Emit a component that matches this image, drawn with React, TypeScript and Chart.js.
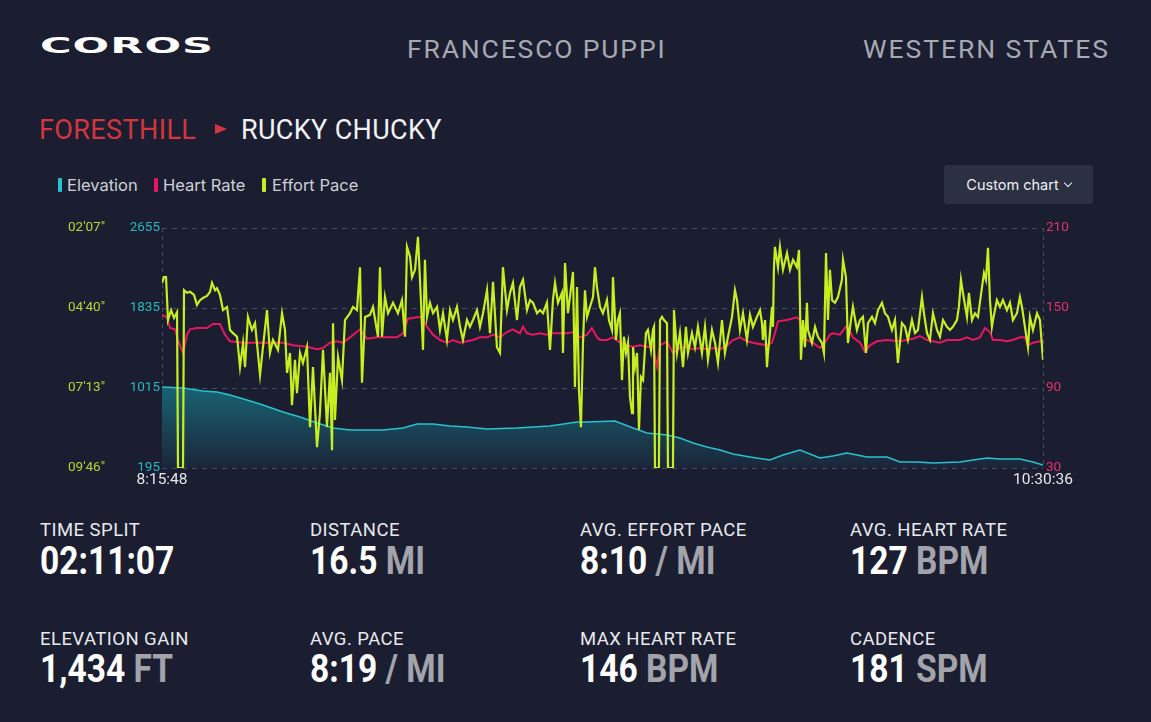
import React, { useEffect, useRef } from "react";
import { Chart, registerables } from "chart.js";

Chart.register(...registerables);

// ---------- data (elapsed seconds from 8:15:48) ----------
const START_CLOCK_S = 8 * 3600 + 15 * 60 + 48; // 8:15:48
const END_ELAPSED_S = 8088; // 10:30:36
const TIME_TICKS = [0, END_ELAPSED_S];

const ELEV_T = [0,193,376,505,624,780,927,1111,1267,1423,1570,1726,2029,2212,2341,2488,2644,2800,2984,3259,3562,3810,3902,4159,4324,4452,4636,4755,4875,5003,5122,5242,5398,5581,5701,5857,6040,6160,6288,6380,6472,6655,6775,6931,7078,7326,7445,7574,7693,7876,7996,8088];
const ELEV_FT = [1025,1015,984,974,943,892,841,769,718,656,605,584,584,605,646,646,625,615,594,605,625,666,666,677,605,554,533,502,451,410,379,338,308,277,328,379,297,318,349,328,308,308,256,256,246,256,277,297,287,287,256,226];

const HR_T = [0,46,73,119,147,193,230,257,321,413,468,532,578,624,744,808,964,1111,1203,1331,1423,1478,1542,1607,1662,1726,1818,1882,1974,2029,2157,2212,2258,2341,2387,2433,2488,2552,2616,2671,2736,2800,2855,2919,2984,3039,3103,3167,3222,3286,3314,3351,3406,3470,3534,3589,3654,3718,3773,3837,3902,3947,3993,4021,4085,4140,4204,4269,4324,4388,4452,4507,4544,4572,4636,4691,4755,4820,4875,4939,5003,5058,5122,5187,5242,5306,5370,5425,5554,5600,5627,5655,5738,5829,5857,5875,5921,5976,6040,6086,6132,6160,6224,6288,6343,6408,6454,6499,6564,6655,6775,6894,6958,7023,7142,7206,7326,7390,7445,7509,7555,7601,7629,7693,7757,7812,7876,7922,7950,7996,8060,8088];
const HR_BPM = [145,143,135,134,126,116,130,134,135,135,138,138,130,125,124,124,124,124,122,121,119,120,124,125,124,128,134,127,128,128,128,131,142,143,143,136,130,126,124,126,124,125,126,128,128,130,128,132,134,131,136,131,130,131,130,131,131,131,132,128,130,135,128,126,126,128,124,122,121,122,121,121,106,122,125,116,120,121,119,120,119,120,119,122,126,128,125,124,122,124,131,140,141,143,141,128,126,124,120,124,130,131,130,137,128,124,117,122,125,126,125,127,129,126,124,126,126,128,126,128,135,132,126,126,125,126,128,128,122,124,125,125];

const PACE_T = [0,18,37,55,83,110,138,147,193,202,230,257,294,321,349,376,413,441,459,487,505,532,560,597,624,652,689,716,744,762,789,826,854,900,927,964,991,1019,1065,1102,1129,1148,1175,1193,1221,1239,1267,1294,1331,1359,1386,1423,1450,1478,1515,1542,1561,1570,1588,1616,1652,1680,1726,1753,1790,1818,1836,1864,1909,1937,1983,2001,2020,2047,2075,2121,2166,2203,2231,2249,2277,2295,2323,2350,2378,2396,2414,2433,2460,2488,2525,2552,2580,2616,2644,2671,2708,2736,2763,2800,2827,2855,2892,2919,2947,2984,3011,3039,3075,3103,3130,3167,3195,3222,3259,3286,3314,3351,3378,3406,3443,3470,3498,3534,3562,3589,3608,3635,3672,3681,3700,3727,3745,3773,3791,3810,3828,3846,3865,3883,3902,3929,3957,3975,3993,4021,4048,4085,4103,4131,4140,4168,4186,4204,4223,4241,4260,4278,4296,4315,4324,4342,4361,4379,4397,4416,4443,4461,4489,4507,4517,4526,4562,4572,4590,4608,4636,4645,4691,4700,4728,4755,4783,4810,4829,4865,4893,4920,4957,4985,5012,5049,5077,5104,5141,5168,5196,5233,5260,5279,5306,5334,5370,5398,5425,5462,5490,5508,5517,5536,5554,5563,5581,5600,5609,5618,5627,5655,5673,5701,5738,5765,5793,5829,5848,5866,5884,5903,5921,5930,5967,5995,6022,6059,6077,6096,6114,6132,6151,6178,6206,6242,6252,6279,6297,6325,6343,6380,6408,6435,6463,6481,6518,6545,6573,6610,6637,6665,6701,6729,6756,6793,6821,6848,6885,6913,6940,6977,6995,7023,7050,7078,7115,7142,7170,7206,7234,7261,7298,7316,7335,7353,7390,7408,7436,7463,7491,7528,7546,7564,7583,7601,7619,7629,7665,7693,7720,7757,7785,7812,7849,7876,7895,7922,7950,7968,7996,8033,8060,8088];
const PACE_S = [232,221,221,303,284,299,288,586,586,246,251,249,255,274,265,261,257,249,232,246,242,255,284,278,322,328,335,393,347,393,297,322,309,408,355,284,366,341,360,290,322,404,366,466,379,443,366,385,355,508,393,546,481,360,508,404,552,309,494,374,418,303,290,278,284,202,423,297,293,278,335,202,335,259,290,270,290,265,335,163,182,221,207,144,270,360,188,297,270,290,278,322,290,341,284,303,278,316,341,303,316,303,284,316,290,246,328,230,355,366,202,284,251,232,303,240,226,284,265,270,290,284,290,270,360,265,232,270,251,366,194,290,259,211,431,240,437,508,347,246,297,278,259,202,240,278,290,265,303,322,221,341,303,290,418,335,366,347,450,481,355,393,366,513,412,418,328,322,360,322,316,586,586,303,297,303,309,586,586,284,366,328,393,316,366,328,355,316,366,316,379,322,347,385,303,366,335,297,246,265,322,290,341,293,316,297,284,309,341,303,393,366,328,278,316,202,163,202,163,207,175,207,188,202,169,379,303,355,270,322,347,316,335,347,366,175,303,207,265,270,259,226,188,221,347,303,278,322,303,297,366,309,297,309,284,270,290,297,322,303,385,309,316,341,303,328,322,259,290,328,341,290,322,335,303,316,322,316,303,278,226,251,297,251,303,290,297,240,213,226,165,265,316,303,265,278,265,284,270,303,290,259,278,316,355,297,322,290,303,379];

const PACE_TICKS = [127, 280, 433, 586];
const ELEV_TICKS = [195, 1015, 1835, 2655];
const HR_TICKS = [30, 90, 150, 210];

const STAT_LABELS = ["TIME SPLIT", "DISTANCE", "AVG. EFFORT PACE", "AVG. HEART RATE", "ELEVATION GAIN", "AVG. PACE", "MAX HEART RATE", "CADENCE"];
const STAT_VALUES = ["02:11:07", "16.5", "8:10", "127", "1,434", "8:19", "146", "181"];
const STAT_UNITS = ["", "MI", "/ MI", "BPM", "FT", "/ MI", "BPM", "SPM"];

const LEGEND_LABELS = ["Elevation", "Heart Rate", "Effort Pace"];

// ---------- styles ----------
const BG = "#1b1e30";
const PACE_COLOR = "#c6ef1f";
const HR_COLOR = "#e8175d";
const ELEV_COLOR = "#27c2cd";
const GRID = "#474c5f";

const pts = (t: number[], v: number[]) => {
  const n = Math.min(t.length, v.length);
  const out: { x: number; y: number }[] = [];
  for (let i = 0; i < n; i++) out.push({ x: t[i], y: v[i] });
  return out;
};

const two = (n: number) => (n < 10 ? "0" + n : "" + n);
const fmtClock = (elapsed: number) => {
  const s = START_CLOCK_S + Math.round(elapsed);
  const h = Math.floor(s / 3600);
  const m = Math.floor((s % 3600) / 60);
  const sec = s % 60;
  return `${h}:${two(m)}:${two(sec)}`;
};
const fmtPace = (v: number) => {
  const m = Math.floor(v / 60);
  const s = Math.round(v % 60);
  return `${two(m)}'${two(s)}"`;
};

const setTicks = (vals: number[]) => (scale: any) => {
  scale.ticks = vals.map((v) => ({ value: v }));
};

function ChartBox() {
  const ref = useRef<HTMLCanvasElement | null>(null);
  useEffect(() => {
    if (!ref.current) return;
    const tickFont = { family: "Roboto", size: 13.5 };
    const chart = new Chart(ref.current, {
      type: "line",
      data: {
        datasets: [
          {
            label: "Effort Pace",
            data: pts(PACE_T, PACE_S),
            yAxisID: "pace",
            borderColor: PACE_COLOR,
            borderWidth: 2.2,
            pointRadius: 0,
            tension: 0,
            fill: false,
          },
          {
            label: "Heart Rate",
            data: pts(HR_T, HR_BPM),
            yAxisID: "hr",
            borderColor: HR_COLOR,
            borderWidth: 2,
            pointRadius: 0,
            tension: 0,
            fill: false,
          },
          {
            label: "Elevation",
            data: pts(ELEV_T, ELEV_FT),
            yAxisID: "elev",
            borderColor: ELEV_COLOR,
            borderWidth: 1.5,
            pointRadius: 0,
            tension: 0,
            fill: "start",
            backgroundColor: (ctx: any) => {
              const c = ctx.chart;
              const area = c.chartArea;
              if (!area) return "rgba(24,110,126,0.8)";
              const g = c.ctx.createLinearGradient(0, area.top + area.height * 0.64, 0, area.bottom);
              g.addColorStop(0, "rgba(23,108,124,0.95)");
              g.addColorStop(1, "rgba(28,38,58,0.95)");
              return g;
            },
          },
        ],
      },
      options: {
        animation: false,
        responsive: false,
        events: [],
        layout: { padding: { top: 28, left: 0, right: 0, bottom: 0 } },
        plugins: { legend: { display: false }, tooltip: { enabled: false } },
        scales: {
          x: {
            type: "linear",
            min: 0,
            max: END_ELAPSED_S,
            afterBuildTicks: setTicks(TIME_TICKS),
            afterFit: (s: any) => {
              s.height = 32;
            },
            ticks: {
              callback: (v: any) => fmtClock(Number(v)),
              color: "#e6e7ea",
              font: { family: "Roboto", size: 15.5 },
              padding: 3,
              maxRotation: 0,
              autoSkip: false,
            },
            grid: { color: GRID, drawTicks: false, lineWidth: 1 },
            border: { display: false, dash: [4, 4] },
          },
          elev: {
            type: "linear",
            position: "left",
            min: 195,
            max: 2655,
            afterBuildTicks: setTicks(ELEV_TICKS),
            afterFit: (s: any) => {
              s.width = 52;
            },
            ticks: { color: "#2ab6c1", font: tickFont, padding: 2, callback: (v: any) => String(Math.round(Number(v))) },
            grid: { color: GRID, drawTicks: false, lineWidth: 1 },
            border: { display: false, dash: [5, 5] },
          },
          pace: {
            type: "linear",
            position: "left",
            reverse: true,
            min: 127,
            max: 586,
            afterBuildTicks: setTicks(PACE_TICKS),
            afterFit: (s: any) => {
              s.width = 70;
            },
            ticks: { color: "#b6d434", font: tickFont, padding: 5, callback: (v: any) => fmtPace(Number(v)) },
            grid: { display: false, drawTicks: false },
            border: { display: false },
          },
          hr: {
            type: "linear",
            position: "right",
            min: 30,
            max: 210,
            afterBuildTicks: setTicks(HR_TICKS),
            afterFit: (s: any) => {
              s.width = 67;
            },
            ticks: { color: "#e0336b", font: tickFont, padding: 3, callback: (v: any) => String(Math.round(Number(v))) },
            grid: { display: false, drawTicks: false },
            border: { display: false },
          },
        },
      } as any,
    });
    return () => chart.destroy();
  }, []);
  return <canvas ref={ref} width={1070} height={300} style={{ position: "absolute", left: 40, top: 200, width: 1070, height: 300 }} />;
}

const abs = (left: number, top: number, extra: React.CSSProperties = {}): React.CSSProperties => ({
  position: "absolute",
  left,
  top,
  whiteSpace: "nowrap",
  ...extra,
});

export default function App() {
  const legendColors = [ELEV_COLOR, HR_COLOR, PACE_COLOR];
  const legendBarX = [57.5, 154, 262];
  const legendTextX = [67, 163, 272];
  const colX = [40, 310, 580, 850];
  return (
    <div style={{ position: "fixed", left: 0, top: 0, width: 1151, height: 722, background: BG, overflow: "hidden", fontFamily: "Roboto, sans-serif" }}>
      {/* logo */}
      <div style={abs(40, 36, { fontFamily: "DejaVu Sans", fontWeight: 700, fontSize: 21, lineHeight: "21px", color: "#ffffff", transform: "scaleX(2.05)", transformOrigin: "left top", letterSpacing: 0.5 })}>
        COROS
      </div>
      <div style={abs(407, 36, { fontSize: 26.5, lineHeight: "26.5px", color: "#a6a8b2", letterSpacing: 1.85 })}>FRANCESCO PUPPI</div>
      <div style={abs(863, 36, { fontSize: 26.5, lineHeight: "26.5px", color: "#a6a8b2", letterSpacing: 1.95 })}>WESTERN STATES</div>

      {/* segment title */}
      <div style={abs(39, 116.5, { fontSize: 27, lineHeight: "27px", color: "#d4353f", letterSpacing: 0.4 })}>FORESTHILL</div>
      <div style={abs(215, 124, { width: 0, height: 0, borderLeft: "12px solid #d4353f", borderTop: "5.5px solid transparent", borderBottom: "5.5px solid transparent" })} />
      <div style={abs(241, 116.5, { fontSize: 27, lineHeight: "27px", color: "#f1f2f5", letterSpacing: 0.35 })}>RUCKY CHUCKY</div>

      {/* legend */}
      {LEGEND_LABELS.map((l, i) => (
        <React.Fragment key={l}>
          <div style={abs(legendBarX[i], 178, { width: 4, height: 14, background: legendColors[i], borderRadius: 1 })} />
          <div style={abs(legendTextX[i], 177, { fontFamily: "Inter", fontSize: 16.5, lineHeight: "16.5px", color: "#cdd0d8" })}>{l}</div>
        </React.Fragment>
      ))}

      {/* custom chart button */}
      <div style={abs(944, 165, { width: 149, height: 39, background: "#2c3043", borderRadius: 3, display: "flex", alignItems: "center", justifyContent: "center", gap: 6 })}>
        <span style={{ fontFamily: "Inter", fontSize: 14.5, color: "#eef0f4", lineHeight: "16px" }}>Custom chart</span>
        <span style={{ display: "inline-block", width: 5, height: 5, borderRight: "1.5px solid #eef0f4", borderBottom: "1.5px solid #eef0f4", transform: "rotate(45deg)", marginTop: -4 }} />
      </div>

      <ChartBox />

      {/* stats */}
      {STAT_LABELS.map((label, i) => {
        const row = Math.floor(i / 4);
        const col = i % 4;
        const x = colX[col];
        const labelTop = row === 0 ? 521 : 629.5;
        const valueTop = row === 0 ? 542 : 650;
        return (
          <React.Fragment key={label}>
            <div style={abs(x, labelTop, { fontSize: 18.5, lineHeight: "18.5px", color: "#e8e9ee", letterSpacing: 0.45 })}>{label}</div>
            <div style={abs(x, valueTop, { fontSize: 39, lineHeight: "39px", fontWeight: 700, color: "#ffffff", transform: "scaleX(0.86)", transformOrigin: "left top" })}>
              {STAT_VALUES[i]}
              {STAT_UNITS[i] ? <span style={{ color: "#a2a3ab" }}>{" " + STAT_UNITS[i]}</span> : null}
            </div>
          </React.Fragment>
        );
      })}
    </div>
  );
}
